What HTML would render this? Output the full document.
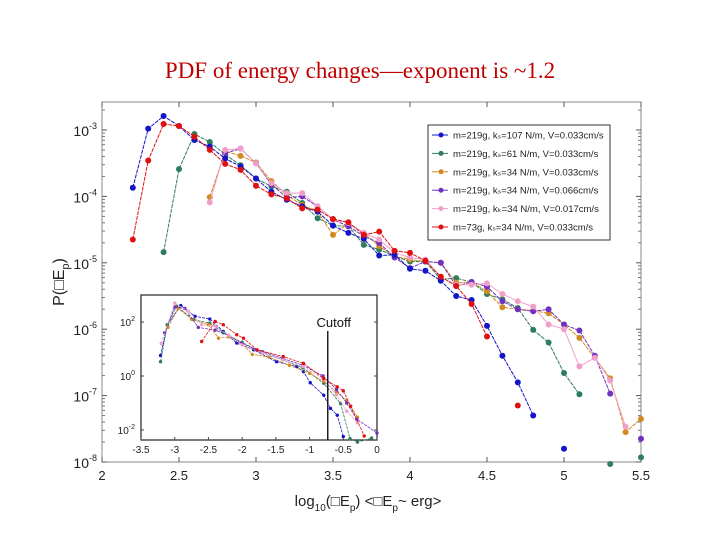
<!DOCTYPE html>
<html><head><meta charset="utf-8"><style>
body{margin:0;background:#fff;width:720px;height:540px;overflow:hidden}
svg{display:block}
</style></head><body>
<svg id="chart" width="720" height="540" xmlns="http://www.w3.org/2000/svg" font-family="Liberation Sans, sans-serif">
<text x="360" y="78" text-anchor="middle" font-family="Liberation Serif, serif" font-size="23" fill="#c00000">PDF of energy changes—exponent is ~1.2</text>
<g id="main"></g>
<g id="inset"></g>
</svg>
<script>
const xStart=[2.2,2.4,2.7,2.8,2.7,2.2];
const seriesNames=["m=219g, k\u209b=107 N/m, V=0.033cm/s","m=219g, k\u209b=61 N/m, V=0.033cm/s","m=219g, k\u209b=34 N/m, V=0.033cm/s","m=219g, k\u209b=34 N/m, V=0.066cm/s","m=219g, k\u2096=34 N/m, V=0.017cm/s","m=73g, k\u209b=34 N/m, V=0.033cm/s"];
const colors=["#1414c8","#2e7d5b","#d08a20","#7030c0","#f0a0c8","#e01010"];
const blueLog=[-3.87,-2.98,-2.79,-2.94,-3.15,-3.25,-3.43,-3.55,-3.73,-3.93,-4.05,-4.15,-4.23,-4.44,-4.55,-4.64,-4.89,-4.88,-5.09,-5.12,-5.27,-5.5,-5.56,-5.95,-6.4,-6.8,-7.3,null,-7.8];
const greenLog=[-4.84,-3.59,-3.06,-3.18,-3.37,-3.53,-3.73,-3.85,-3.93,-4.1,-4.33,-4.44,-4.45,-4.73,-4.8,-4.9,-4.98,-4.98,-5.25,-5.23,-5.29,-5.47,-5.55,-5.68,-6.01,-6.2,-6.66,-6.98,null,-8.03,null,-7.93];
const orangeLog=[-4.01,-3.32,-3.39,-3.49,-3.77,-3.98,-4.13,-4.23,-4.58,-4.4,-4.55,-4.75,-4.9,-4.95,-4.98,-5.0,-5.3,-5.29,-5.43,-5.67,-5.7,-5.72,-5.76,-5.93,-6.13,-6.43,-6.74,-7.55,-7.35];
const purpleLog=[-3.35,-3.28,-3.5,-3.82,-4.02,-4.0,-4.15,-4.35,-4.45,-4.6,-4.7,-4.92,-5.08,-4.98,-5.0,-5.35,-5.29,-5.36,-5.58,-5.7,-5.73,-5.7,-5.93,-6.02,-6.4,-6.97,null,-7.65];
const pinkLog=[-4.09,-3.3,-3.28,-3.5,-3.8,-3.95,-3.95,-4.15,-4.35,-4.4,-4.55,-4.65,-4.85,-4.92,-4.95,-5.22,-5.33,-5.33,-5.31,-5.47,-5.58,-5.66,-5.93,-6.0,-6.56,-6.43,-6.77,-7.47];
const redLog=[-4.65,-3.46,-2.91,-2.94,-3.1,-3.3,-3.51,-3.6,-3.84,-3.97,-4.03,-4.18,-4.2,-4.34,-4.39,-4.58,-4.53,-4.82,-4.85,-4.97,-5.21,-5.35,-5.62,-6.11,null,-7.15];
const xTicks=[2,2.5,3,3.5,4,4.5,5,5.5];
const yDecades=[-3,-4,-5,-6,-7,-8];
// inset
const inX=[[-3.21,-3.11,-2.91,-2.7,-2.48,-2.28,-2.08,-1.83,-1.49,-1.19,-1.09,-0.99,-0.79,-0.69,-0.59,-0.5],
[-3.21,-3.11,-2.97,-2.72,-2.48,-2.28,-2.0,-1.7,-1.4,-1.1,-0.79,-0.54,-0.4,-0.29,-0.08],
[-3.1,-2.95,-2.75,-2.5,-2.35,-2.2,-2.0,-1.85,-1.6,-1.3,-1.0,-0.79,-0.6,-0.45,-0.29],
[-3.15,-3.0,-2.85,-2.65,-2.4,-2.2,-2.0,-1.7,-1.4,-1.1,-0.8,-0.6,-0.45,-0.3,0.0],
[-3.2,-3.0,-2.8,-2.6,-2.4,-2.2,-2.0,-1.7,-1.4,-1.1,-0.8,-0.6,-0.45,-0.29],
[-2.6,-2.4,-2.28,-2.08,-1.98,-1.78,-1.39,-1.09,-0.79,-0.59,-0.5,-0.39,-0.19]];
const inL=[[0.76,1.9,2.61,2.21,2.11,1.65,1.22,0.97,0.53,0.35,0.16,-0.25,-0.71,-1.2,-1.45,-2.24],
[0.53,1.9,2.58,2.09,1.96,1.6,1.25,0.85,0.6,0.3,-0.27,-1.02,-2.32,-2.45,-2.3],
[1.8,2.5,2.1,1.9,1.4,1.45,1.2,0.8,0.7,0.4,0.1,-0.2,-0.6,-0.9,-1.52],
[1.6,2.55,2.5,1.8,1.7,1.5,1.2,0.9,0.65,0.4,0.0,-0.5,-1.0,-1.6,-2.11],
[1.2,2.7,2.4,1.9,1.85,1.5,1.15,0.85,0.6,0.35,-0.1,-0.7,-1.3,-1.73],
[1.28,2.02,1.9,1.53,1.4,0.97,0.72,0.47,-0.09,-0.4,-0.55,-1.12,-2.22]];
const inXTicks=[-3.5,-3,-2.5,-2,-1.5,-1,-0.5,0];
const inYDecades=[2,0,-2];
const cutoffX=-0.73;

const NS="http://www.w3.org/2000/svg";
function mk(tag,attrs,parent){const e=document.createElementNS(NS,tag);for(const k in attrs)e.setAttribute(k,attrs[k]);parent.appendChild(e);return e;}
const main=document.getElementById('main');
const L=102,R=641,T=102,B=462;
const sx=v=>L+(v-2)*(R-L)/3.5;
const sy=l=>130+(-3-l)*66.4;
let e=mk('rect',{x:L,y:T,width:R-L,height:B-T,fill:'none',stroke:'#888','stroke-width':1},main);


xTicks.forEach(v=>{const x=sx(v);
 mk('line',{x1:x,x2:x,y1:B,y2:B-5,stroke:'#555'},main);
 mk('line',{x1:x,x2:x,y1:T,y2:T+5,stroke:'#555'},main);
 const t=mk('text',{x:x,y:B+18,'text-anchor':'middle','font-size':13,fill:'#222'},main);t.textContent=String(v);
 
 });
yDecades.forEach(d=>{const y=sy(d);
 mk('line',{x1:L,x2:L+5,y1:y,y2:y,stroke:'#555'},main);
 mk('line',{x1:R,x2:R-5,y1:y,y2:y,stroke:'#555'},main);
 for(let k=2;k<10;k++){const yy=y-Math.log10(k)*66.4;if(yy<T)continue;
  mk('line',{x1:L,x2:L+3,y1:yy,y2:yy,stroke:'#777'},main);mk('line',{x1:R,x2:R-3,y1:yy,y2:yy,stroke:'#777'},main);}
 const t=mk('text',{x:L-5,y:y+6,'text-anchor':'end','font-size':14,fill:'#222'},main);
 t.innerHTML='10<tspan dy="-7" font-size="9">'+d+'</tspan>';
 
 });
const allLogs=[blueLog,greenLog,orangeLog,purpleLog,pinkLog,redLog];
const order=[1,2,3,4,0,5];
order.forEach(i=>{const arr=allLogs[i];const g=mk('g',{},main);
 
 
 let d='';let pen=false;
 arr.forEach((l,j)=>{if(l===null){pen=false;return;}const x=sx(xStart[i]+0.1*j),y=sy(l);d+=(pen?'L':'M')+x.toFixed(1)+' '+y.toFixed(1);pen=true;});
 mk('path',{d:d,fill:'none',stroke:colors[i],'stroke-width':1,'stroke-dasharray':i===4?'':'4 1'},g);
 arr.forEach((l,j)=>{if(l===null)return;const c=mk('circle',{cx:sx(xStart[i]+0.1*j),cy:sy(l),r:3,fill:colors[i]},g);
  
  });});
// legend
const lg=mk('g',{},main);


mk('rect',{x:428,y:125,width:182,height:115,fill:'#fff',stroke:'#333'},lg);
seriesNames.forEach((n,i)=>{const y=135+i*18.4;
 mk('line',{x1:432,x2:448,y1:y,y2:y,stroke:colors[i]},lg);
 mk('circle',{cx:441,cy:y,r:2.5,fill:colors[i]},lg);
 const t=mk('text',{x:453,y:y+3.5,'font-size':9.5,fill:'#222'},lg);t.textContent=n;
 
 });
// axis titles
let yt=mk('text',{x:0,y:0,'font-size':16,fill:'#222','text-anchor':'middle',transform:'translate(64,282) rotate(-90)'},main);
yt.innerHTML='P(\u25A1E<tspan dy="5" font-size="11">p</tspan><tspan dy="-5">)</tspan>';


let xt=mk('text',{x:368,y:506,'font-size':15,fill:'#222','text-anchor':'middle'},main);
xt.innerHTML='log<tspan dy="5" font-size="10">10</tspan><tspan dy="-5">(\u25A1E</tspan><tspan dy="5" font-size="10">p</tspan><tspan dy="-5">)  &lt;\u25A1E</tspan><tspan dy="5" font-size="10">p</tspan><tspan dy="-5">~ erg&gt;</tspan>';


// inset
const ins=document.getElementById('inset');


const iL=141,iR=377,iT=295,iB=440;
const ix=v=>iL+(v+3.5)*(iR-iL)/3.5;
const iy=l=>376-l*27;
mk('rect',{x:iL,y:iT,width:iR-iL,height:iB-iT,fill:'#fff',stroke:'#222','stroke-width':1.2},ins);
inXTicks.forEach(v=>{const x=ix(v);mk('line',{x1:x,x2:x,y1:iB,y2:iB-3,stroke:'#444'},ins);
 const t=mk('text',{x:x,y:iB+13,'text-anchor':'middle','font-size':10,fill:'#222'},ins);t.textContent=String(v);
 
 });
inYDecades.forEach(d=>{const y=iy(d);mk('line',{x1:iL,x2:iL+3,y1:y,y2:y,stroke:'#444'},ins);mk('line',{x1:iR,x2:iR-3,y1:y,y2:y,stroke:'#444'},ins);
 const t=mk('text',{x:iL-6,y:y+4,'text-anchor':'end','font-size':10,fill:'#222'},ins);
 t.innerHTML='10<tspan dy="-5" font-size="7">'+d+'</tspan>';
 
 });
inX.forEach((xs,i)=>{const g=mk('g',{},ins);
 
 
 let d='';xs.forEach((v,j)=>{d+=(j?'L':'M')+ix(v).toFixed(1)+' '+iy(inL[i][j]).toFixed(1);});
 mk('path',{d:d,fill:'none',stroke:colors[i],'stroke-width':0.8,'stroke-dasharray':'3 1'},g);
 xs.forEach((v,j)=>{const c=mk('circle',{cx:ix(v),cy:iy(inL[i][j]),r:1.7,fill:colors[i]},g);
  
  });});
const cl=mk('line',{x1:ix(cutoffX),x2:ix(cutoffX),y1:331,y2:iB,stroke:'#000','stroke-width':1.3},ins);


const ct=mk('text',{x:ix(cutoffX)+6,y:327,'text-anchor':'middle','font-size':13,fill:'#111'},ins);ct.textContent='Cutoff';


</script>
</body></html>
